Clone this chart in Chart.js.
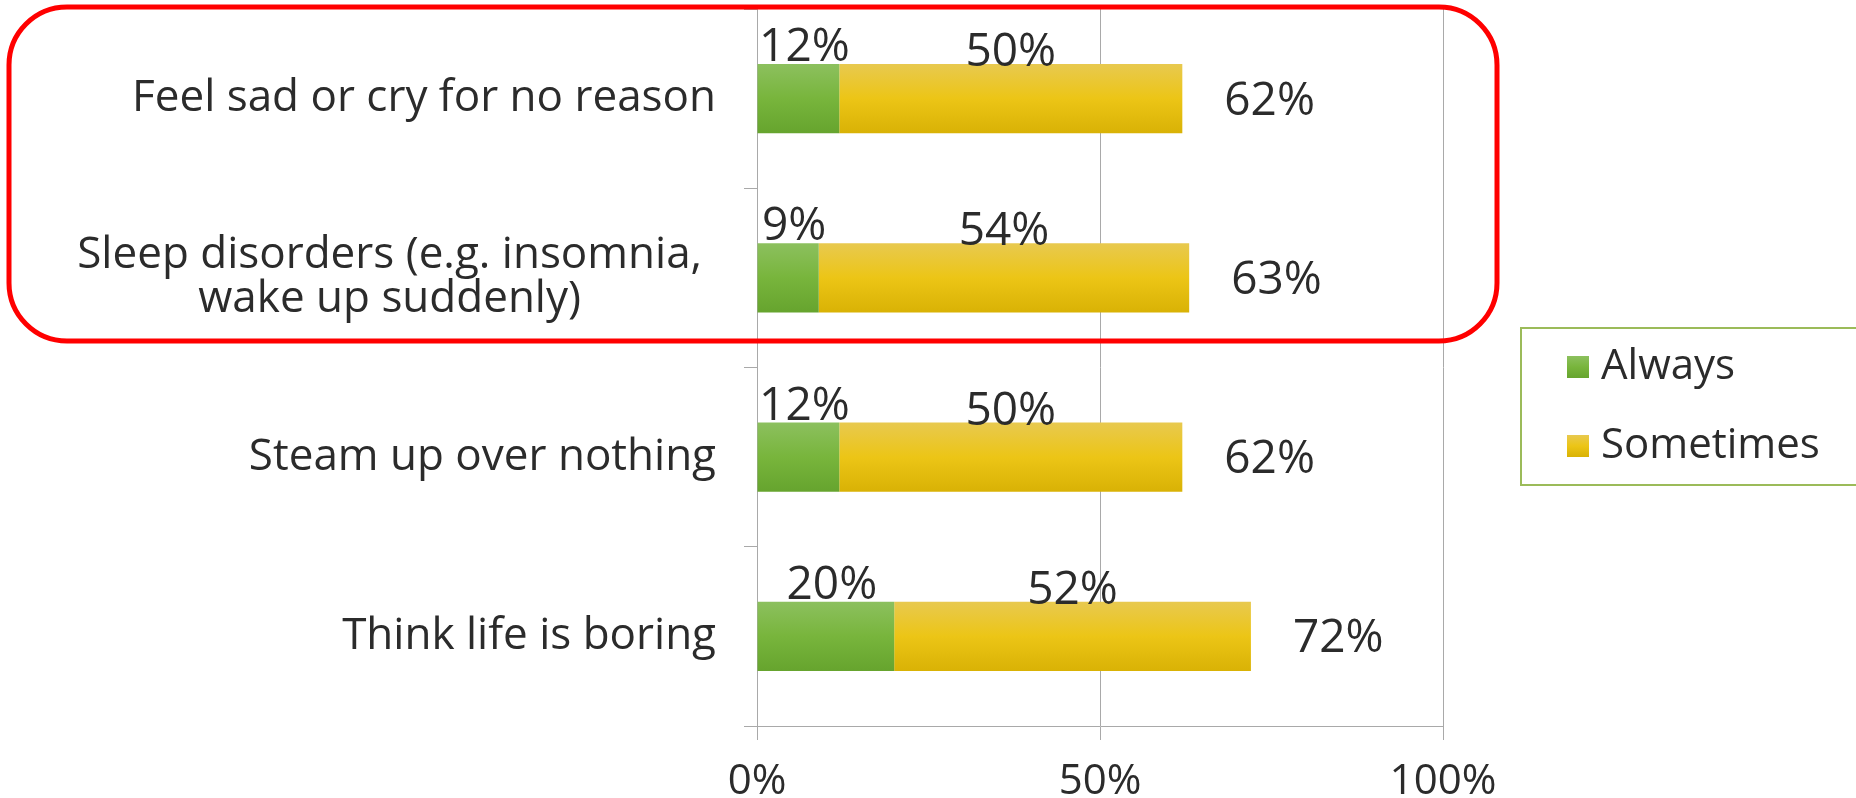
<!DOCTYPE html>
<html>
<head>
<meta charset="utf-8">
<script src="https://cdn.jsdelivr.net/npm/chart.js@4.4.1/dist/chart.umd.min.js"></script>
<style>
  html, body { margin: 0; padding: 0; background: #fff; }
  canvas { display: block; }
</style>
</head>
<body>
<canvas id="moodChart" width="1856" height="798"></canvas>
<script>
// survey answers, percent of respondents
const categories = [
    'Feel sad or cry for no reason',
    ['Sleep disorders (e.g. insomnia,', 'wake up suddenly)'],
    'Steam up over nothing',
    'Think life is boring'
];
const always = [12, 9, 12, 20];
const sometimes = [50, 54, 50, 52];
const seriesNames = ['Always', 'Sometimes'];

const FONT = '"Open Sans", "DejaVu Sans", sans-serif';
const TEXT = '#2b2b2b';
const GRID = '#a9a9a9';

const greenStops = ['#8cc05e', '#78b53c', '#66a42e'];
const yellowStops = ['#e8c94f', '#ecc516', '#d9b205'];

// vertical gradient for each bar, following the bar's own band
function barFill(stops) {
    return (ctx) => {
        const chart = ctx.chart;
        const y = chart.scales.y;
        if (!chart.chartArea || !y || ctx.type !== 'data') return stops[1];
        const c = y.getPixelForValue(ctx.dataIndex);
        const half = (y.height / categories.length) * 0.385 / 2;
        const g = chart.ctx.createLinearGradient(0, c - half, 0, c + half);
        g.addColorStop(0, stops[0]);
        g.addColorStop(0.5, stops[1]);
        g.addColorStop(1, stops[2]);
        return g;
    };
}

function font(size) {
    return size + 'px ' + FONT;
}

// category names, multi-line ones centred inside their block
const categoryLabels = {
    id: 'categoryLabels',
    afterDraw(chart) {
        const ctx = chart.ctx;
        const y = chart.scales.y;
        ctx.save();
        ctx.font = font(44);
        ctx.fillStyle = TEXT;
        ctx.textBaseline = 'middle';
        categories.forEach((label, i) => {
            const c = y.getPixelForValue(i);
            if (Array.isArray(label)) {
                const right = 702;
                const w = Math.max(...label.map(l => ctx.measureText(l).width));
                const lh = 44;
                ctx.textAlign = 'center';
                label.forEach((line, k) => {
                    ctx.fillText(line, right - w / 2, c + (k - (label.length - 1) / 2) * lh);
                });
            } else {
                ctx.textAlign = 'right';
                ctx.fillText(label, 716, c);
            }
        });
        ctx.restore();
    }
};

// segment values above the bars and the totals after them
const valueLabels = {
    id: 'valueLabels',
    afterDatasetsDraw(chart) {
        const ctx = chart.ctx;
        const x = chart.scales.x;
        const green = chart.getDatasetMeta(0).data;
        const yellow = chart.getDatasetMeta(1).data;
        ctx.save();
        ctx.fillStyle = TEXT;
        ctx.font = font(46);
        ctx.textAlign = 'center';
        ctx.textBaseline = 'alphabetic';
        categories.forEach((_, i) => {
            const g = green[i];
            const s = yellow[i];
            const top = g.y - g.height / 2;
            ctx.fillText(always[i] + '%', (g.x + g.base) / 2 + 6, top - 3);
            ctx.fillText(sometimes[i] + '%', (s.x + s.base) / 2, top + 2);
        });
        ctx.textAlign = 'left';
        categories.forEach((_, i) => {
            const total = always[i] + sometimes[i];
            const s = yellow[i];
            ctx.fillText(total + '%', x.getPixelForValue(total) + 42, s.y + 16);
        });
        ctx.restore();
    }
};

// boxed legend on the right
const boxLegend = {
    id: 'boxLegend',
    afterDraw(chart) {
        const ctx = chart.ctx;
        ctx.save();
        ctx.strokeStyle = '#9bbb59';
        ctx.lineWidth = 2;
        ctx.strokeRect(1521, 328, 400, 157);
        const rows = [[greenStops, 367], [yellowStops, 446]];
        ctx.font = font(42);
        ctx.fillStyle = TEXT;
        ctx.textBaseline = 'middle';
        ctx.textAlign = 'left';
        rows.forEach(([stops, cy], k) => {
            const g = ctx.createLinearGradient(0, cy - 11, 0, cy + 11);
            g.addColorStop(0, stops[0]);
            g.addColorStop(0.5, stops[1]);
            g.addColorStop(1, stops[2]);
            ctx.fillStyle = g;
            ctx.fillRect(1567, cy - 11, 22, 22);
            ctx.fillStyle = TEXT;
            ctx.fillText(seriesNames[k], 1601, cy);
        });
        ctx.restore();
    }
};

// red rounded frame around the first two rows
const highlight = {
    id: 'highlight',
    afterDraw(chart) {
        const ctx = chart.ctx;
        const x0 = 9, y0 = 7, x1 = 1497, y1 = 341, r = 58;
        ctx.save();
        ctx.strokeStyle = '#ff0000';
        ctx.lineWidth = 5;
        ctx.beginPath();
        ctx.moveTo(x0 + r, y0);
        ctx.arcTo(x1, y0, x1, y1, r);
        ctx.arcTo(x1, y1, x0, y1, r);
        ctx.arcTo(x0, y1, x0, y0, r);
        ctx.arcTo(x0, y0, x1, y0, r);
        ctx.closePath();
        ctx.stroke();
        ctx.restore();
    }
};

const data = {
    labels: categories,
    datasets: [{
        label: seriesNames[0],
        data: always,
        backgroundColor: barFill(greenStops),
        borderWidth: 0,
        categoryPercentage: 1,
        barPercentage: 0.385
    }, {
        label: seriesNames[1],
        data: sometimes,
        backgroundColor: barFill(yellowStops),
        borderWidth: 0,
        categoryPercentage: 1,
        barPercentage: 0.385
    }]
};

const config = {
    type: 'bar',
    data: data,
    plugins: [categoryLabels, valueLabels, boxLegend, highlight],
    options: {
        indexAxis: 'y',
        responsive: false,
        animation: false,
        layout: {
            padding: { top: 9, right: 413, left: 0, bottom: 0 }
        },
        plugins: {
            legend: { display: false },
            tooltip: { enabled: false }
        },
        scales: {
            x: {
                stacked: true,
                min: 0,
                max: 100,
                ticks: {
                    stepSize: 50,
                    color: TEXT,
                    font: { family: FONT, size: 42 },
                    padding: 17,
                    callback: v => v + '%'
                },
                grid: {
                    color: GRID,
                    lineWidth: 1,
                    tickLength: 14
                },
                border: { color: GRID, width: 1 },
                afterFit(scale) { scale.height = 72; }
            },
            y: {
                stacked: true,
                ticks: { display: false },
                grid: {
                    color: GRID,
                    drawOnChartArea: false,
                    tickLength: 13,
                    offset: true
                },
                border: { color: GRID, width: 1 },
                afterFit(scale) { scale.width = 757; }
            }
        }
    }
};

const moodChart = new Chart(document.getElementById('moodChart'), config);
</script>
</body>
</html>
